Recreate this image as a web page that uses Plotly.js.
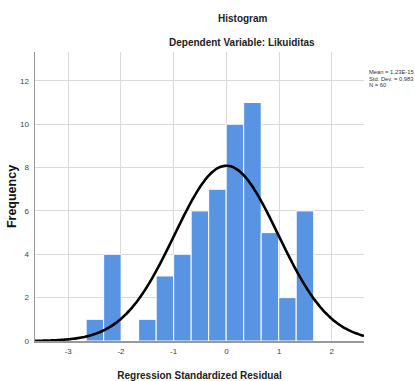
<!DOCTYPE html>
<html><head><meta charset="utf-8">
<script src="https://cdn.plot.ly/plotly-3.0.1.min.js"></script>
<style>html,body{margin:0;padding:0;background:#fff}#chart{width:415px;height:381px}</style>
</head><body><div id="chart"></div>
<script>
// Histogram data (bin centers of standardized residuals, and frequencies)
const binCenters = [-2.494, -2.162, -1.830, -1.498, -1.166, -0.834, -0.502, -0.170, 0.162, 0.494, 0.826, 1.158, 1.490];
const counts = [1, 4, 0, 1, 3, 4, 6, 7, 10, 11, 5, 2, 6];
const binWidth = 0.332;
// Summary statistics shown in the chart
const meanVal = 1.23e-15;
const sdVal = 0.983;
const nVal = 60;
const statLabels = ["Mean = 1,23E-15", "Std. Dev. = 0,983", "N = 60"];
const xTicks = [-3, -2, -1, 0, 1, 2];
const yTicks = [0, 2, 4, 6, 8, 10, 12];

// Fitted normal curve from the summary statistics
const xMin = -3.63, xMax = 2.61;
const curveX = [], curveY = [];
for (let i = 0; i <= 200; i++) {
  const x = xMin + (xMax - xMin) * i / 200;
  curveX.push(x);
  curveY.push(nVal * binWidth * Math.exp(-0.5 * Math.pow((x - meanVal) / sdVal, 2)) / (sdVal * Math.sqrt(2 * Math.PI)));
}

const font = "'Liberation Sans', Arial, sans-serif";

const traces = [
  {type: 'bar', x: binCenters, y: counts, width: binWidth,
   marker: {color: '#5894e2', line: {color: '#ffffff', width: 1}}, hoverinfo: 'x+y'},
  {type: 'scatter', mode: 'lines', x: curveX, y: curveY,
   line: {color: '#000000', width: 2.6, shape: 'spline'}, hoverinfo: 'skip'}
];

const statAnn = statLabels.map((t, i) => ({
  text: t, xref: 'paper', yref: 'paper', x: 1.01, y: (341.3 - (72 + i * 6.6)) / 289.3,
  xanchor: 'left', yanchor: 'middle', showarrow: false,
  font: {family: font, size: 5.8, color: '#333'}
}));

const layout = {
  width: 415, height: 381,
  margin: {l: 35, r: 51, t: 52, b: 40},
  paper_bgcolor: '#fff', plot_bgcolor: '#fff',
  showlegend: false,
  bargap: 0,
  xaxis: {
    range: [xMin, xMax], tickvals: xTicks, ticktext: xTicks.map(String),
    showgrid: true, gridcolor: '#dadada', gridwidth: 1,
    zeroline: false, showline: true, linecolor: '#999', linewidth: 1.5,
    ticks: '', ticklabelstandoff: 2,
    tickfont: {family: font, size: 8, color: '#444'},
    title: {text: 'Regression Standardized Residual', standoff: 17,
            font: {family: font, size: 10, color: '#222', weight: 'bold'}}
  },
  yaxis: {
    range: [0, 13.33], tickvals: yTicks, ticktext: yTicks.map(String),
    showgrid: true, gridcolor: '#dadada', gridwidth: 1,
    zeroline: false, showline: true, linecolor: '#999', linewidth: 1.5,
    ticks: '', ticklabelstandoff: 3,
    tickfont: {family: font, size: 8, color: '#444'},
    title: {text: 'Frequency', standoff: 0,
            font: {family: font, size: 12.5, color: '#111', weight: 'bold'}}
  },
  annotations: [
    {text: 'Histogram', xref: 'paper', yref: 'paper', x: 0.632, y: (341.3 - 18) / 289.3,
     xanchor: 'center', yanchor: 'middle', showarrow: false,
     font: {family: font, size: 10, color: '#222', weight: 'bold'}},
    {text: 'Dependent Variable: Likuiditas', xref: 'paper', yref: 'paper', x: 0.629, y: (341.3 - 42) / 289.3,
     xanchor: 'center', yanchor: 'middle', showarrow: false,
     font: {family: font, size: 10, color: '#222', weight: 'bold'}}
  ].concat(statAnn)
};

Plotly.newPlot('chart', traces, layout, {displayModeBar: false, staticPlot: true});
</script></body></html>
